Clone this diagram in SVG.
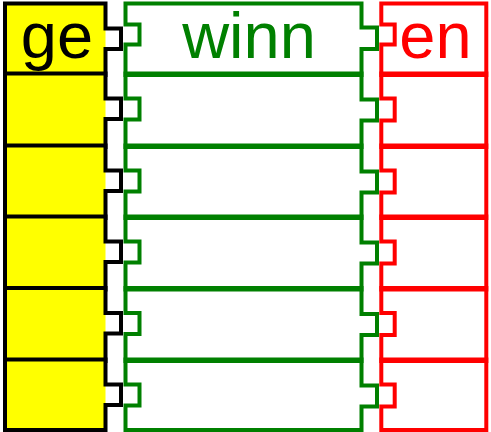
<svg xmlns="http://www.w3.org/2000/svg" width="491" height="432" viewBox="0 0 491 432">
<style>
.fill{fill:#ffff00;stroke:none}
.k{fill:none;stroke:#000;stroke-width:4}
.g{fill:none;stroke:#008000;stroke-width:4}
.r{fill:none;stroke:#ff0000;stroke-width:4}
text{font-family:"Liberation Sans",Arial,sans-serif;font-size:65px;text-anchor:middle}
</style>
<rect width="491" height="432" fill="#fff"/>
<g id="col-ge">
<g id="ge-1"><rect class="fill" x="5" y="3.5" width="100.5" height="70"/><path class="k" d="M5,3.5 H105.5 V28.5 H121 V49 H105.5 V75 H5 Z"/><text x="57" y="58" fill="#000">ge</text></g>
<g id="ge-2"><rect class="fill" x="5" y="73.5" width="100.5" height="72"/><path class="k" d="M5,73.5 H105.5 V98.5 H121 V119 H105.5 V147 H5 Z"/></g>
<g id="ge-3"><rect class="fill" x="5" y="145.5" width="100.5" height="71"/><path class="k" d="M5,145.5 H105.5 V170.5 H121 V191 H105.5 V218 H5 Z"/></g>
<g id="ge-4"><rect class="fill" x="5" y="216.5" width="100.5" height="71.5"/><path class="k" d="M5,216.5 H105.5 V241.5 H121 V262 H105.5 V289.5 H5 Z"/></g>
<g id="ge-5"><rect class="fill" x="5" y="288" width="100.5" height="71.5"/><path class="k" d="M5,288 H105.5 V313 H121 V333.5 H105.5 V361 H5 Z"/></g>
<g id="ge-6"><rect class="fill" x="5" y="359.5" width="100.5" height="70.5"/><path class="k" d="M5,359.5 H105.5 V384.5 H121 V405 H105.5 V430 H5 Z"/></g>
</g>
<g id="col-winn">
<g id="winn-1"><path class="g" d="M125.5,3.5 H361.5 V27.5 H377 V49 H361.5 V75 H125.5 V44.5 H139.5 V24.5 H125.5 Z"/><text x="249" y="58" fill="#008000">winn</text></g>
<g id="winn-2"><path class="g" d="M125.5,73.5 H361.5 V99.5 H377 V120.5 H361.5 V147 H125.5 V119.5 H139.5 V98.5 H125.5 Z"/></g>
<g id="winn-3"><path class="g" d="M125.5,145.5 H361.5 V171.5 H377 V192.5 H361.5 V218 H125.5 V191.5 H139.5 V170.5 H125.5 Z"/></g>
<g id="winn-4"><path class="g" d="M125.5,216.5 H361.5 V242.5 H377 V263.5 H361.5 V289.5 H125.5 V262.5 H139.5 V241.5 H125.5 Z"/></g>
<g id="winn-5"><path class="g" d="M125.5,288 H361.5 V314 H377 V335 H361.5 V361 H125.5 V334 H139.5 V313 H125.5 Z"/></g>
<g id="winn-6"><path class="g" d="M125.5,359.5 H361.5 V385.5 H377 V406.5 H361.5 V430 H125.5 V405.5 H139.5 V384.5 H125.5 Z"/></g>
</g>
<g id="col-en">
<g id="en-1"><path class="r" d="M381.3,3.5 H486.3 V75 H381.3 V44.5 H394.7 V24.5 H381.3 Z"/><text x="435.5" y="58" fill="#ff0000">en</text></g>
<g id="en-2"><path class="r" d="M381.3,73.5 H486.3 V147 H381.3 V120.5 H394.7 V98.5 H381.3 Z"/></g>
<g id="en-3"><path class="r" d="M381.3,145.5 H486.3 V218 H381.3 V192.5 H394.7 V170.5 H381.3 Z"/></g>
<g id="en-4"><path class="r" d="M381.3,216.5 H486.3 V289.5 H381.3 V263.5 H394.7 V241.5 H381.3 Z"/></g>
<g id="en-5"><path class="r" d="M381.3,288 H486.3 V361 H381.3 V335 H394.7 V313 H381.3 Z"/></g>
<g id="en-6"><path class="r" d="M381.3,359.5 H486.3 V430 H381.3 V406.5 H394.7 V384.5 H381.3 Z"/></g>
</g>
<g id="connectors"/>
</svg>
